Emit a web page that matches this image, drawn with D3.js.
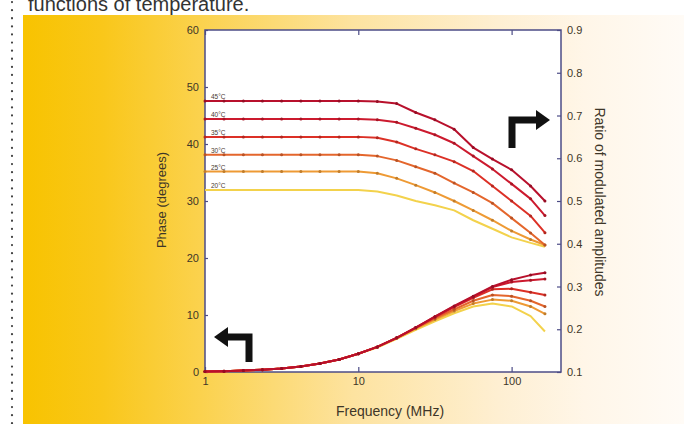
<!DOCTYPE html>
<html>
<head>
<meta charset="utf-8">
<script src="https://cdn.jsdelivr.net/npm/d3@7"></script>
<style>
  html, body { margin: 0; padding: 0; background: #fff; }
  svg { display: block; font-family: "Liberation Sans", Arial, sans-serif; }
</style>
</head>
<body>
<svg width="684" height="424"></svg>
<script>
// DATA
// measurement frequencies (MHz), 8 points per decade
const freqs = [1, 1.33, 1.78, 2.37, 3.16, 4.22, 5.62, 7.5, 10, 13.3, 17.8, 23.7, 31.6, 42.2, 56.2, 75, 100, 133, 165];

const temps = ["45°C", "40°C", "35°C", "30°C", "25°C", "20°C"];
const colors = ["#b8102c", "#cc1a2e", "#dc3026", "#e4662c", "#ee9a34", "#f3d24c"];

// ratio of modulated amplitudes (right axis)
const ratio45 = [0.734, 0.734, 0.734, 0.734, 0.734, 0.734, 0.734, 0.734, 0.734, 0.733, 0.728, 0.707, 0.69, 0.668, 0.625, 0.598, 0.573, 0.535, 0.5];
const ratio40 = [0.692, 0.692, 0.692, 0.692, 0.692, 0.692, 0.692, 0.692, 0.692, 0.69, 0.684, 0.67, 0.655, 0.635, 0.605, 0.575, 0.54, 0.505, 0.466];
const ratio35 = [0.65, 0.65, 0.65, 0.65, 0.65, 0.65, 0.65, 0.65, 0.65, 0.648, 0.638, 0.622, 0.608, 0.592, 0.57, 0.535, 0.5, 0.465, 0.426];
const ratio30 = [0.608, 0.608, 0.608, 0.608, 0.608, 0.608, 0.608, 0.608, 0.608, 0.605, 0.595, 0.58, 0.565, 0.542, 0.52, 0.495, 0.46, 0.425, 0.397];
const ratio25 = [0.569, 0.569, 0.569, 0.569, 0.569, 0.569, 0.569, 0.569, 0.569, 0.565, 0.553, 0.537, 0.52, 0.5, 0.478, 0.455, 0.43, 0.41, 0.397];
const ratio20 = [0.526, 0.526, 0.526, 0.526, 0.526, 0.526, 0.526, 0.526, 0.526, 0.522, 0.513, 0.5, 0.49, 0.478, 0.455, 0.435, 0.415, 0.402, 0.393];

// phase in degrees (left axis)
const phase45 = [0.1, 0.15, 0.25, 0.4, 0.6, 0.95, 1.5, 2.2, 3.2, 4.4, 6.0, 7.8, 9.7, 11.6, 13.3, 15.0, 16.2, 17.0, 17.4];
const phase40 = [0.1, 0.15, 0.25, 0.4, 0.6, 0.95, 1.5, 2.2, 3.2, 4.4, 6.0, 7.8, 9.7, 11.5, 13.2, 14.9, 15.8, 16.1, 16.3];
const phase35 = [0.1, 0.15, 0.25, 0.4, 0.6, 0.95, 1.5, 2.2, 3.2, 4.4, 6.0, 7.8, 9.6, 11.4, 13.0, 14.5, 14.6, 14.0, 13.5];
const phase30 = [0.1, 0.15, 0.25, 0.4, 0.6, 0.95, 1.5, 2.2, 3.2, 4.4, 6.0, 7.7, 9.4, 11.0, 12.5, 13.5, 13.3, 12.5, 11.5];
const phase25 = [0.1, 0.15, 0.25, 0.4, 0.6, 0.95, 1.5, 2.2, 3.2, 4.4, 5.9, 7.6, 9.2, 10.7, 12.0, 12.7, 12.5, 11.5, 10.2];
const phase20 = [0.1, 0.15, 0.25, 0.4, 0.6, 0.95, 1.5, 2.2, 3.2, 4.3, 5.8, 7.4, 8.9, 10.3, 11.5, 12.0, 11.5, 9.8, 7.1];

const xTicks = [1, 10, 100];
const leftTicks = [0, 10, 20, 30, 40, 50, 60];
const rightTicks = [0.1, 0.2, 0.3, 0.4, 0.5, 0.6, 0.7, 0.8, 0.9];

const ratios = [ratio45, ratio40, ratio35, ratio30, ratio25, ratio20];
const phases = [phase45, phase40, phase35, phase30, phase25, phase20];

// LAYOUT
const svg = d3.select("svg");
const width = 684, height = 424;
const plot = { left: 205, right: 561, top: 30, bottom: 372 };
const axisColor = "#4c4c86";
const textColor = "#3e3628";

// SCALES
const xScale = d3.scaleLog().domain([1, 210]).range([plot.left, plot.right]);
const yLeft = d3.scaleLinear().domain([0, 60]).range([plot.bottom, plot.top]);
const yRight = d3.scaleLinear().domain([0.1, 0.9]).range([plot.bottom, plot.top]);

// background gradient
const defs = svg.append("defs");
const grad = defs.append("linearGradient").attr("id", "bg").attr("x1", 0).attr("x2", 1).attr("y1", 0).attr("y2", 0);
[[0, "#f8c300"], [0.12, "#f9c71a"], [0.27, "#fbd24e"], [0.5, "#fde3a0"], [0.72, "#feefd2"], [0.85, "#fff6e8"], [1, "#fffbf6"]]
  .forEach(s => grad.append("stop").attr("offset", s[0]).attr("stop-color", s[1]));

svg.append("rect").attr("width", width).attr("height", height).attr("fill", "#fff");
svg.append("rect")
  .attr("x", 23).attr("y", 15)
  .attr("width", width - 23).attr("height", height - 15)
  .attr("fill", "url(#bg)");

// dotted margin line
svg.append("line")
  .attr("x1", 12).attr("x2", 12).attr("y1", 2).attr("y2", height)
  .attr("stroke", "#444").attr("stroke-width", 2.2)
  .attr("stroke-dasharray", "0.1 8").attr("stroke-linecap", "round");

// caption cut at top
svg.append("text")
  .attr("x", 28).attr("y", 11)
  .attr("font-size", 20).attr("fill", "#333")
  .text("functions of temperature.");

// plot area
svg.append("rect")
  .attr("x", plot.left).attr("y", plot.top)
  .attr("width", plot.right - plot.left).attr("height", plot.bottom - plot.top)
  .attr("fill", "#fff");

// AXES
const styleAxis = g => {
  g.select(".domain").remove();
  g.selectAll(".tick line").attr("stroke", axisColor).attr("stroke-width", 1.2);
  g.selectAll(".tick text").attr("fill", textColor).attr("font-size", 11).attr("font-family", "Liberation Sans, Arial, sans-serif");
};

svg.append("g")
  .attr("transform", `translate(${plot.left},0)`)
  .call(d3.axisLeft(yLeft).tickValues(leftTicks).tickSizeInner(-3).tickSizeOuter(0).tickPadding(6))
  .call(styleAxis);

svg.append("g")
  .attr("transform", `translate(${plot.right},0)`)
  .call(d3.axisRight(yRight).tickValues(rightTicks).tickFormat(d3.format(".1f")).tickSizeInner(-4).tickSizeOuter(0).tickPadding(6))
  .call(styleAxis);

svg.append("g")
  .attr("transform", `translate(0,${plot.bottom})`)
  .call(d3.axisBottom(xScale).tickValues(xTicks).tickFormat(d3.format("d")).tickSizeInner(-5).tickSizeOuter(0).tickPadding(5))
  .call(styleAxis);

svg.append("g")
  .attr("transform", `translate(0,${plot.top})`)
  .call(d3.axisTop(xScale).tickValues(xTicks).tickFormat("").tickSizeInner(-5).tickSizeOuter(0))
  .call(styleAxis);

// frame
svg.append("rect")
  .attr("x", plot.left).attr("y", plot.top)
  .attr("width", plot.right - plot.left).attr("height", plot.bottom - plot.top)
  .attr("fill", "none").attr("stroke", axisColor).attr("stroke-width", 1.5);

// axis titles
svg.append("text")
  .attr("transform", `translate(166,200) rotate(-90)`)
  .attr("text-anchor", "middle").attr("font-size", 13).attr("fill", textColor)
  .text("Phase (degrees)");

svg.append("text")
  .attr("transform", `translate(595,202) rotate(90)`)
  .attr("text-anchor", "middle").attr("font-size", 14).attr("fill", textColor)
  .text("Ratio of modulated amplitudes");

svg.append("text")
  .attr("x", 390).attr("y", 416)
  .attr("text-anchor", "middle").attr("font-size", 14).attr("fill", textColor)
  .text("Frequency (MHz)");

// LINES
const darker = c => d3.color(c).darker(0.6);
const ratioLine = d3.line().x((d, i) => xScale(freqs[i])).y(d => yRight(d));
const phaseLine = d3.line().x((d, i) => xScale(freqs[i])).y(d => yLeft(d));

// draw from coolest to hottest so the red curves sit on top
const order = d3.range(temps.length).reverse();

order.forEach(i => {
  const g = svg.append("g");
  g.append("path").attr("d", ratioLine(ratios[i]))
    .attr("fill", "none").attr("stroke", colors[i]).attr("stroke-width", 2).attr("stroke-linejoin", "round");
  g.append("path").attr("d", phaseLine(phases[i]))
    .attr("fill", "none").attr("stroke", colors[i]).attr("stroke-width", 2).attr("stroke-linejoin", "round");
  if (i < 5) {
    g.selectAll(".rdot").data(ratios[i]).join("circle")
      .attr("cx", (d, k) => xScale(freqs[k])).attr("cy", d => yRight(d))
      .attr("r", 1.5).attr("fill", darker(colors[i]));
    g.selectAll(".pdot").data(phases[i]).join("circle")
      .attr("cx", (d, k) => xScale(freqs[k])).attr("cy", d => yLeft(d))
      .attr("r", 1.5).attr("fill", darker(colors[i]));
  }
});

// temperature labels at the left of the ratio curves
svg.selectAll(".tlabel").data(temps).join("text")
  .attr("x", 211)
  .attr("y", (d, i) => yRight(ratios[i][0]) - 2)
  .attr("font-size", 6.5).attr("fill", "#4a3a30")
  .text(d => d);

// bent arrows
const arrow = (path, head) => {
  svg.append("path").attr("d", path).attr("fill", "none")
    .attr("stroke", "#111").attr("stroke-width", 7).attr("stroke-linejoin", "miter");
  svg.append("path").attr("d", head).attr("fill", "#111");
};
arrow("M512,148 L512,120 L538,120", "M536,110 L550,120 L536,130 Z");
arrow("M249,362 L249,337 L226,337", "M228,327 L214,337 L228,347 Z");
</script>
</body>
</html>
